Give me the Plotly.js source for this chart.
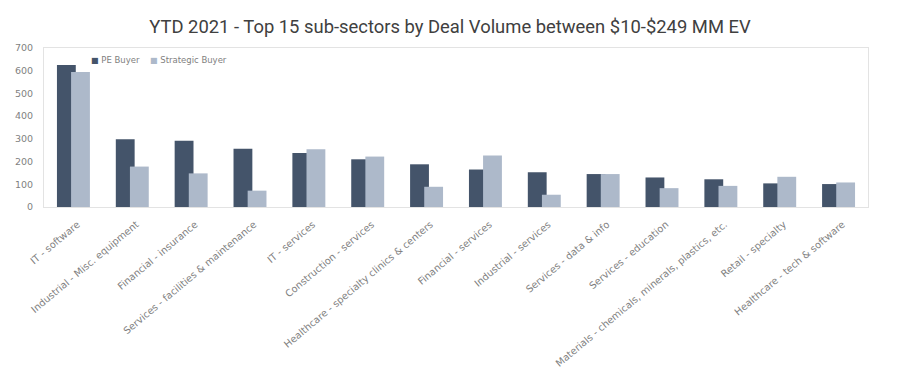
<!DOCTYPE html>
<html>
<head>
<meta charset="utf-8">
<script src="https://cdn.plot.ly/plotly-3.0.1.min.js"></script>
<style>html,body{margin:0;padding:0;background:#fff;}#chart{width:900px;height:386px;}</style>
</head>
<body>
<div id="chart"></div>
<script>
const categories = [
  "IT - software",
  "Industrial - Misc. equipment",
  "Financial - insurance",
  "Services - facilities & maintenance",
  "IT - services",
  "Construction - services",
  "Healthcare - specialty clinics & centers",
  "Financial - services",
  "Industrial - services",
  "Services - data & info",
  "Services - education",
  "Materials - chemicals, minerals, plastics, etc.",
  "Retail - specialty",
  "Healthcare - tech & software"
];
const peBuyer =        [625, 298, 292, 256, 238, 210, 188, 165, 153, 145, 130, 122, 104, 101];
const strategicBuyer = [594, 178, 148, 72, 254, 222, 89, 227, 54, 145, 83, 93, 133, 108];
const seriesNames = ["PE Buyer", "Strategic Buyer"];
const seriesColors = ["#44546a", "#adb9ca"];
const yTicks = [0, 100, 200, 300, 400, 500, 600, 700];

const traces = [
  {type: "bar", name: seriesNames[0], x: categories, y: peBuyer,
   marker: {color: seriesColors[0]}, offset: -0.28, width: 0.32, showlegend: false},
  {type: "bar", name: seriesNames[1], x: categories, y: strategicBuyer,
   marker: {color: seriesColors[1]}, offset: -0.04, width: 0.32, showlegend: false}
];

const tickFamily = "'DejaVu Sans', sans-serif";
const legendFont = {family: tickFamily, size: 8.5, color: "#7f7f7f"};
const annotations = [
  {xref: "paper", yref: "paper", x: 0.055, y: 0.925, xanchor: "left", yanchor: "middle",
   showarrow: false, font: legendFont,
   text: '<span style="color:' + seriesColors[0] + ';font-size:8px">■</span> ' + seriesNames[0]},
  {xref: "paper", yref: "paper", x: 0.126, y: 0.925, xanchor: "left", yanchor: "middle",
   showarrow: false, font: legendFont,
   text: '<span style="color:' + seriesColors[1] + ';font-size:8px">■</span> ' + seriesNames[1]}
];

const layout = {
  width: 900, height: 386,
  margin: {l: 44, r: 32, t: 48, b: 179},
  paper_bgcolor: "#fff", plot_bgcolor: "#fff",
  barmode: "overlay",
  font: {family: tickFamily, color: "#7f7f7f", size: 10},
  title: {text: "YTD 2021 - Top 15 sub-sectors by Deal Volume between $10-$249 MM EV",
          font: {family: "Roboto, sans-serif", size: 18.4, color: "#404040"},
          x: 0.5, xanchor: "center", y: 0.93, yanchor: "middle"},
  showlegend: false,
  annotations: annotations,
  xaxis: {type: "category", tickangle: -40, showline: true, mirror: true,
          linecolor: "#e3e3e3", linewidth: 1, ticks: "", showgrid: false,
          ticklabelstandoff: 7, ticklabelshift: 4,
          tickfont: {family: tickFamily, size: 9.8, color: "#7f7f7f"}, automargin: false},
  yaxis: {range: [0, 700], tickvals: yTicks, showline: true, mirror: true,
          linecolor: "#e3e3e3", linewidth: 1, showgrid: false, zeroline: false,
          ticks: "", ticklabelstandoff: 8,
          tickfont: {family: tickFamily, size: 9.5, color: "#7f7f7f"}, automargin: false}
};

Plotly.newPlot("chart", traces, layout, {displayModeBar: false, staticPlot: true});
</script>
</body>
</html>
